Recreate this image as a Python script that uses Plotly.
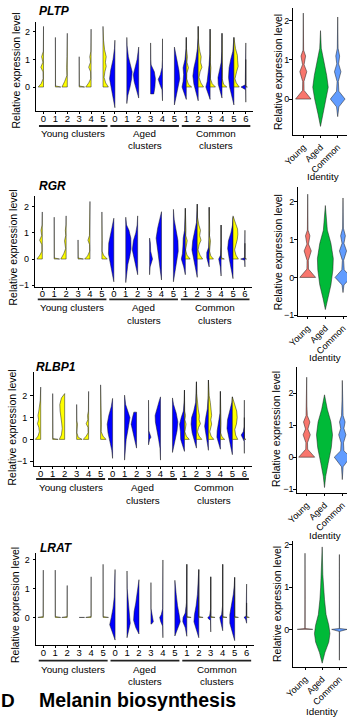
import plotly.graph_objects as go

W, H = 347, 719

CLUSTER_LABELS = ['0', '1', '2', '3', '4', '5', '0', '1', '2', '3', '4', '5', '1', '2', '3', '4', '5', '6']
GROUP_LABELS = [['Young clusters'], ['Aged', 'clusters'], ['Common', 'clusters']]
IDENTITY = ['Young', 'Aged', 'Common']
GENES = ['PLTP', 'RGR', 'RLBP1', 'LRAT']

# Each profile: [expression level, relative density width] from bottom to top
PLTP_young = [
    [[0, 1], [0.12, 0.45], [0.3, 0.08], [0.55, 0.1], [0.72, 0.5], [0.9, 0.12], [1.1, 0.35], [1.3, 0.04], [2.2, 0]],
    [[0, 1], [0.04, 0.03], [0.7, 0.03], [1.8, 0]],
    [[0, 1], [0.2, 0.5], [0.42, 0.08], [0.7, 0.12], [0.9, 0.05], [1.1, 0.06], [1.95, 0]],
    [[0, 1], [0.04, 0.03], [0.7, 0.03], [1.1, 0]],
    [[0, 1], [0.15, 0.45], [0.3, 0.08], [0.55, 0.1], [0.72, 0.45], [0.9, 0.12], [1.1, 0.25], [1.3, 0.04], [2.1, 0]],
    [[0, 1], [0.15, 0.5], [0.35, 0.2], [0.55, 0.35], [0.75, 0.6], [0.9, 0.45], [1.1, 0.6], [1.35, 0.3], [1.7, 0.1], [2.2, 0]],
]
PLTP_aged = [
    [[-0.75, 0], [-0.4, 0.3], [0, 0.75], [0.3, 1], [0.6, 0.8], [1.0, 0.35], [1.4, 0.08], [1.7, 0]],
    [[-0.6, 0], [-0.3, 0.2], [0, 0.6], [0.3, 0.9], [0.55, 1], [0.8, 0.7], [1.1, 0.3], [1.5, 0.05], [1.8, 0]],
    [[-0.4, 0], [-0.1, 0.4], [0.2, 0.85], [0.45, 1], [0.7, 0.7], [1.0, 0.3], [1.45, 0]],
    [[-0.25, 0.6], [0, 0.8], [0.3, 0.9], [0.55, 0.7], [0.8, 0.1], [1.0, 0.03], [1.6, 0]],
    [[-0.5, 0], [-0.1, 0.1], [0.1, 0.5], [0.28, 0.8], [0.45, 0.4], [0.7, 0.1], [1.0, 0.02], [1.75, 0]],
    [[-0.65, 0], [-0.3, 0.4], [0, 0.75], [0.3, 1], [0.6, 0.85], [0.9, 0.5], [1.2, 0.15], [1.45, 0]],
]
PLTP_common_aged = [
    [[-0.45, 0], [-0.2, 0.5], [0, 0.8], [0.2, 0.6], [0.45, 0.5], [0.7, 0.6], [1.0, 0.25], [1.4, 0.05], [1.8, 0]],
    [[-0.5, 0], [-0.2, 0.4], [0.1, 0.8], [0.4, 1], [0.7, 0.8], [1.0, 0.45], [1.4, 0.15], [1.8, 0.03], [2.2, 0]],
    [[-0.45, 0], [-0.2, 0.5], [0, 0.8], [0.2, 0.55], [0.5, 0.35], [0.8, 0.2], [1.2, 0.05], [2.1, 0]],
    [[-0.4, 0], [-0.15, 0.4], [0.1, 0.7], [0.35, 0.75], [0.6, 0.45], [0.9, 0.15], [1.3, 0.03], [1.95, 0]],
    [[-0.65, 0], [-0.3, 0.45], [0, 0.8], [0.35, 1], [0.7, 0.9], [1.0, 0.6], [1.3, 0.2], [1.8, 0]],
    [[-0.55, 0], [-0.1, 0.03], [0, 0.9], [0.08, 0.1], [1.6, 0]],
]
PLTP_common_young = [
    [[0, 1], [0.1, 0.4], [0.3, 0.08], [0.5, 0.1], [0.7, 0.4], [0.9, 0.12], [1.1, 0.2], [1.4, 0.03], [1.8, 0]],
    [[0, 1], [0.15, 0.5], [0.35, 0.15], [0.55, 0.35], [0.72, 0.7], [0.9, 0.45], [1.1, 0.55], [1.3, 0.3], [1.6, 0.08], [2.2, 0]],
    [[0, 1], [0.12, 0.4], [0.3, 0.05], [0.7, 0.15], [0.9, 0.04], [1.1, 0.08], [2.1, 0]],
    [[0, 0.9], [0.1, 0.3], [0.3, 0.04], [0.7, 0.08], [1.1, 0.05], [1.95, 0]],
    [[0, 1], [0.15, 0.45], [0.3, 0.2], [0.55, 0.5], [0.75, 0.8], [0.95, 0.7], [1.15, 0.65], [1.4, 0.3], [1.7, 0.05], [1.8, 0]],
    [[0, 0.3], [0.02, 0.01], [1.0, 0]],
]
PLTP_identity = [
    [[0, 1], [0.1, 0.55], [0.22, 0.1], [0.45, 0.08], [0.7, 0.45], [0.88, 0.1], [1.1, 0.3], [1.25, 0.04], [2.2, 0]],
    [[-0.7, 0], [-0.4, 0.3], [0, 0.75], [0.3, 1], [0.6, 0.8], [1.0, 0.4], [1.3, 0.1], [1.75, 0]],
    [[-0.45, 0], [-0.2, 0.15], [0, 0.95], [0.2, 0.15], [0.45, 0.08], [0.7, 0.42], [0.9, 0.12], [1.1, 0.25], [1.3, 0.05], [2.1, 0]],
]

RGR_young = [
    [[0, 1], [0.15, 0.45], [0.3, 0.08], [0.55, 0.1], [0.72, 0.5], [0.9, 0.12], [1.1, 0.25], [1.3, 0.04], [1.8, 0]],
    [[0, 1], [0.04, 0.03], [0.66, 0.04], [1.6, 0]],
    [[0, 1], [0.2, 0.45], [0.4, 0.1], [0.7, 0.3], [0.9, 0.08], [1.1, 0.15], [1.3, 0.03], [1.65, 0]],
    [[0, 1], [0.04, 0.03], [0.73, 0]],
    [[0, 1], [0.12, 0.45], [0.3, 0.06], [0.55, 0.08], [0.72, 0.38], [0.9, 0.1], [1.1, 0.1], [2.2, 0]],
    [[0, 1], [0.15, 0.3], [0.3, 0.04], [0.7, 0.06], [1.1, 0.05], [1.8, 0]],
]
RGR_aged = [
    [[-0.87, 0], [-0.5, 0.35], [-0.2, 0.75], [0.2, 1], [0.6, 0.95], [0.9, 0.7], [1.2, 0.35], [1.56, 0]],
    [[-0.9, 0], [-0.5, 0.15], [-0.2, 0.4], [0.1, 0.75], [0.4, 1], [0.8, 0.95], [1.1, 0.6], [1.3, 0.15], [1.6, 0]],
    [[-0.6, 0], [-0.3, 0.3], [0, 0.65], [0.35, 1], [0.7, 0.8], [1.0, 0.35], [1.3, 0.1], [1.65, 0]],
    [[-0.6, 0], [-0.3, 0.1], [0, 0.55], [0.3, 0.2], [0.6, 0.15], [0.8, 0]],
    [[-0.8, 0], [-0.4, 0.25], [0, 0.55], [0.4, 0.85], [0.8, 1], [1.2, 0.7], [1.5, 0.3], [1.81, 0]],
    [[-0.87, 0], [-0.5, 0.3], [-0.1, 0.65], [0.3, 0.9], [0.7, 0.85], [1.1, 0.5], [1.5, 0.15], [1.9, 0]],
]
RGR_common_aged = [
    [[-0.6, 0], [-0.3, 0.3], [0, 0.75], [0.2, 0.55], [0.5, 0.45], [0.8, 0.4], [1.1, 0.15], [1.5, 0.03], [1.94, 0]],
    [[-0.7, 0], [-0.3, 0.4], [0, 0.7], [0.35, 1], [0.7, 0.85], [1.0, 0.5], [1.4, 0.15], [2.1, 0]],
    [[-0.3, 0], [-0.1, 0.3], [0.05, 0.45], [0.25, 0.45], [0.45, 0.1], [0.8, 0.02], [1.98, 0]],
    [[-0.65, 0], [-0.3, 0.15], [0, 0.45], [0.15, 0.1], [0.5, 0.02], [1.3, 0]],
    [[-0.75, 0], [-0.4, 0.35], [0, 0.7], [0.4, 1], [0.7, 0.85], [1.0, 0.4], [1.3, 0.1], [1.6, 0]],
    [[-0.3, 0], [-0.05, 0.05], [0, 0.8], [0.05, 0.05], [1.1, 0]],
]
RGR_common_young = [
    [[0, 0.9], [0.15, 0.3], [0.35, 0.05], [0.7, 0.35], [0.9, 0.08], [1.1, 0.12], [1.94, 0]],
    [[0, 1], [0.15, 0.5], [0.35, 0.15], [0.55, 0.35], [0.72, 0.7], [0.9, 0.45], [1.1, 0.6], [1.3, 0.3], [1.6, 0.05], [2.1, 0]],
    [[0, 0.8], [0.12, 0.3], [0.3, 0.08], [0.7, 0.25], [0.9, 0.06], [1.1, 0.1], [1.98, 0]],
    [[0, 0.6], [0.05, 0.03], [1.3, 0]],
    [[0, 1], [0.15, 0.55], [0.35, 0.3], [0.55, 0.55], [0.75, 0.8], [0.95, 0.9], [1.15, 0.85], [1.35, 0.5], [1.55, 0.15], [1.65, 0]],
    [[0, 0.3], [0.03, 0.01], [0.6, 0]],
]
RGR_identity = [
    [[0, 1], [0.1, 0.55], [0.22, 0.1], [0.45, 0.08], [0.7, 0.45], [0.88, 0.1], [1.1, 0.28], [1.25, 0.04], [2.2, 0]],
    [[-0.85, 0], [-0.55, 0.3], [-0.2, 0.7], [0.2, 0.95], [0.5, 1], [0.9, 0.7], [1.25, 0.25], [1.9, 0]],
    [[-0.4, 0], [-0.2, 0.12], [0, 1], [0.2, 0.15], [0.45, 0.08], [0.7, 0.45], [0.9, 0.12], [1.1, 0.3], [1.3, 0.05], [2.1, 0]],
]

RLBP1_young = [
    [[0, 1], [0.15, 0.5], [0.35, 0.25], [0.55, 0.35], [0.72, 0.6], [0.9, 0.4], [1.1, 0.5], [1.3, 0.35], [1.5, 0.25], [1.8, 0.08], [2.4, 0]],
    [[0, 1], [0.04, 0.05], [0.7, 0.06], [0.85, 0.02], [1.1, 0.08], [1.25, 0.02], [2.1, 0]],
    [[0, 1], [0.2, 0.6], [0.5, 0.45], [0.75, 0.55], [1.0, 0.7], [1.3, 0.85], [1.6, 0.9], [1.9, 0.6], [2.1, 0]],
    [[0, 1], [0.1, 0.3], [0.3, 0.04], [0.7, 0.15], [0.85, 0.03], [1.6, 0]],
    [[0, 1], [0.15, 0.45], [0.3, 0.1], [0.55, 0.12], [0.72, 0.45], [0.9, 0.15], [1.1, 0.2], [1.3, 0.04], [2.2, 0]],
    [[0, 1], [0.15, 0.45], [0.35, 0.12], [0.7, 0.15], [1.1, 0.1], [2.5, 0]],
]
RLBP1_aged = [
    [[-0.87, 0], [-0.5, 0.15], [-0.1, 0.5], [0.3, 0.85], [0.7, 1], [1.1, 0.7], [1.5, 0.25], [1.88, 0]],
    [[-0.95, 0], [-0.5, 0.1], [0, 0.3], [0.4, 0.6], [0.8, 0.95], [1.0, 1], [1.3, 0.6], [1.6, 0.2], [2.03, 0]],
    [[-0.4, 0], [-0.1, 0.3], [0.3, 0.7], [0.7, 1], [1.0, 0.75], [1.25, 0.5]],
    [[-0.25, 0], [0, 0.2], [0.1, 0.45], [0.25, 0.3], [0.4, 0.05], [1.8, 0]],
    [[-0.95, 0], [-0.4, 0.1], [0, 0.35], [0.4, 0.65], [0.8, 0.95], [1.1, 1], [1.5, 0.6], [1.8, 0.2], [1.95, 0]],
    [[-0.6, 0], [-0.3, 0.25], [0, 0.55], [0.4, 0.85], [0.8, 1], [1.2, 0.7], [1.6, 0.2], [1.9, 0]],
]
RLBP1_common_aged = [
    [[-0.55, 0], [-0.3, 0.35], [0, 0.7], [0.35, 0.75], [0.7, 0.9], [1.0, 0.6], [1.3, 0.2], [1.8, 0.05], [2.26, 0]],
    [[-0.4, 0], [-0.1, 0.35], [0.3, 0.8], [0.7, 1], [1.0, 0.9], [1.3, 0.5], [1.7, 0.15], [2.64, 0]],
    [[-0.5, 0], [-0.2, 0.2], [0.2, 0.55], [0.6, 0.7], [1.0, 0.5], [1.4, 0.2], [2.0, 0.05], [2.72, 0]],
    [[-0.45, 0], [-0.2, 0.3], [0.1, 0.65], [0.4, 0.6], [0.8, 0.3], [1.2, 0.08], [2.2, 0]],
    [[-0.7, 0], [-0.3, 0.35], [0.1, 0.75], [0.5, 1], [0.9, 0.9], [1.3, 0.45], [1.7, 0.1], [1.95, 0]],
    [[-0.64, 0], [-0.1, 0.03], [0.05, 0.3], [0.2, 0.6], [0.35, 0.2], [0.6, 0.02], [1.8, 0]],
]
RLBP1_common_young = [
    [[0, 0.9], [0.15, 0.35], [0.35, 0.08], [0.7, 0.3], [0.9, 0.08], [1.1, 0.2], [1.3, 0.05], [2.26, 0]],
    [[0, 1], [0.15, 0.5], [0.35, 0.2], [0.55, 0.4], [0.72, 0.75], [0.9, 0.5], [1.1, 0.55], [1.35, 0.35], [1.7, 0.15], [2.1, 0.05], [2.64, 0]],
    [[0, 1], [0.15, 0.5], [0.35, 0.25], [0.7, 0.6], [0.9, 0.45], [1.1, 0.6], [1.4, 0.5], [1.7, 0.35], [2.0, 0.15], [2.72, 0]],
    [[0, 0.8], [0.12, 0.3], [0.3, 0.05], [0.7, 0.12], [1.1, 0.06], [2.2, 0]],
    [[0, 1], [0.2, 0.6], [0.45, 0.45], [0.7, 0.75], [1.0, 0.9], [1.3, 0.8], [1.6, 0.45], [1.95, 0]],
    [[0, 0.3], [0.04, 0.01], [1.0, 0]],
]
RLBP1_identity = [
    [[0, 1], [0.12, 0.55], [0.25, 0.12], [0.45, 0.1], [0.7, 0.45], [0.88, 0.15], [1.1, 0.4], [1.3, 0.08], [1.6, 0.02], [2.5, 0]],
    [[-0.95, 0], [-0.6, 0.15], [-0.2, 0.45], [0.3, 0.85], [0.7, 1], [1.1, 0.8], [1.5, 0.35], [1.95, 0]],
    [[-0.7, 0], [-0.3, 0.1], [0, 1], [0.2, 0.2], [0.45, 0.15], [0.7, 0.45], [0.9, 0.2], [1.1, 0.35], [1.3, 0.1], [1.8, 0.03], [2.4, 0]],
]

LRAT_young = [
    [[0, 1], [0.03, 0.03], [0.7, 0.03], [1.63, 0]],
    [[0, 1], [0.03, 0.02], [0.7, 0.03], [1.63, 0]],
    [[0, 1], [0.03, 0.02], [1.1, 0]],
    [[0, 1], [0.02, 0]],
    [[0, 1], [0.03, 0.02], [0.7, 0.02], [1.4, 0]],
    [[0, 1], [0.03, 0.02], [0.7, 0.02], [1.83, 0]],
]
LRAT_aged = [
    [[-0.78, 0], [-0.5, 0.5], [-0.25, 1], [0, 0.7], [0.3, 0.4], [0.7, 0.15], [1.2, 0.03], [1.65, 0]],
    [[-0.7, 0], [-0.45, 0.3], [-0.2, 0.6], [0, 0.5], [0.3, 0.35], [0.6, 0.15], [1.0, 0.03], [1.6, 0]],
    [[-0.57, 0], [-0.35, 0.6], [-0.1, 1], [0.2, 0.9], [0.5, 0.6], [0.9, 0.25], [1.3, 0]],
    [[-0.23, 0.1], [-0.15, 0.45], [0, 0.3], [0.1, 0.1], [0.3, 0.02], [1.2, 0]],
    [[-0.7, 0], [-0.3, 0.05], [-0.15, 0.4], [0, 0.6], [0.1, 0.3], [0.3, 0.05], [1.98, 0]],
    [[-0.64, 0], [-0.35, 0.6], [-0.15, 1], [0.1, 0.8], [0.4, 0.5], [0.8, 0.25], [1.28, 0]],
]
LRAT_common_aged = [
    [[-0.65, 0], [-0.35, 0.3], [-0.15, 0.75], [0, 0.7], [0.15, 0.3], [0.5, 0.08], [1.83, 0]],
    [[-0.7, 0], [-0.4, 0.5], [-0.15, 0.9], [0.1, 0.8], [0.4, 0.5], [0.8, 0.25], [1.2, 0.08], [1.65, 0]],
    [[-0.5, 0], [-0.1, 0.05], [-0.05, 0.4], [0, 0.55], [0.05, 0.2], [0.3, 0.02], [1.4, 0]],
    [[-0.46, 0], [-0.2, 0.3], [0, 0.55], [0.1, 0.2], [0.4, 0.03], [1.83, 0]],
    [[-0.8, 0], [-0.5, 0.4], [-0.2, 0.9], [0.1, 0.9], [0.4, 0.6], [0.8, 0.25], [1.1, 0.08], [1.38, 0]],
    [[-0.2, 0], [-0.05, 0.2], [0, 0.5], [0.05, 0.1], [1.15, 0]],
]
LRAT_common_young = [
    [[0, 0.8], [0.03, 0.02], [1.83, 0]],
    [[0, 0.8], [0.03, 0.02], [0.7, 0.02], [1.65, 0]],
    [[0, 0.8], [0.03, 0.02], [1.4, 0]],
    [[0, 0.8], [0.03, 0.02], [1.83, 0]],
    [[0, 0.7], [0.03, 0.02], [1.38, 0]],
    [[0, 0.5], [0.03, 0.01], [0.5, 0]],
]
LRAT_identity = [
    [[0, 1], [0.02, 0.02], [0.7, 0.02], [1.8, 0]],
    [[-0.8, 0], [-0.55, 0.35], [-0.3, 0.85], [-0.1, 1], [0.1, 0.85], [0.35, 0.5], [0.7, 0.3], [1.0, 0.2], [1.3, 0.08], [1.95, 0]],
    [[-0.73, 0], [-0.05, 0.02], [0, 1], [0.02, 0.02], [1.77, 0]],
]

DATA = {
    'PLTP': (PLTP_young, PLTP_aged, PLTP_common_aged, PLTP_common_young, PLTP_identity),
    'RGR': (RGR_young, RGR_aged, RGR_common_aged, RGR_common_young, RGR_identity),
    'RLBP1': (RLBP1_young, RLBP1_aged, RLBP1_common_aged, RLBP1_common_young, RLBP1_identity),
    'LRAT': (LRAT_young, LRAT_aged, LRAT_common_aged, LRAT_common_young, LRAT_identity),
}

# ---------------- styling / layout (pixels) ----------------
YELLOW, BLUE = '#FFFF00', '#0000FF'
ID_COLORS = ['#F8766D', '#00BA38', '#619CFF']
OUTLINE = '#1a1a1a'
FONT = 'Liberation Sans, Arial, sans-serif'
HW = 0.45  # half width of a violin in category units

LEFT = [
    dict(p0=43.5, sp=11.9, top=22, bot=111, yr=[-0.87, 2.36], ticks=[0, 1, 2]),
    dict(p0=42.3, sp=11.92, top=196, bot=286.5, yr=[-1.05, 2.41], ticks=[-1, 0, 1, 2]),
    dict(p0=40.7, sp=11.98, top=372, bot=466, yr=[-1.22, 3.09], ticks=[-1, 0, 1, 2]),
    dict(p0=43.3, sp=11.96, top=553, bot=645, yr=[-0.95, 2.22], ticks=[0, 1, 2]),
]
RIGHT = [
    dict(ax=292.5, young=303.3, sp=17.2, top=8, bot=135, yr=[-0.92, 2.33], ticks=[0, 1, 2]),
    dict(ax=297.5, young=307.7, sp=17.65, top=187, bot=316, yr=[-1.02, 2.39], ticks=[-1, 0, 1, 2]),
    dict(ax=296.7, young=306.7, sp=17.8, top=367, bot=493, yr=[-1.12, 2.82], ticks=[-1, 0, 1, 2]),
    dict(ax=292.5, young=305, sp=17.2, top=541, bot=667, yr=[-0.89, 2.09], ticks=[0, 1, 2]),
]
TITLE_POS = [(37, 11), (36.5, 186), (33.5, 366.5), (38, 547.5)]
YT_LEFT = [(15.5, 71), (12.5, 248), (12, 427.5), (15, 605)]
YT_RIGHT = [(277.5, 72.5), (277.5, 252.7), (276, 429), (277, 604)]
IDENT_POS = [(323, 177), (325, 357), (325, 535), (322, 711.5)]
GROUP_Y = [(126, 133, 145.7), (299.3, 307.7, 320), (479, 487.7, 500), (660.7, 669.3, 681.7)]


def px(x):
    return x / W


def py(y):
    return 1 - y / H


def half_shape(xc, side, prof):
    ys = [p[0] for p in prof]
    ws = [p[1] for p in prof]
    xs = [xc] + [xc + side * HW * w for w in ws] + [xc, xc]
    yy = [ys[0]] + ys + [ys[-1], ys[0]]
    return xs, yy


def full_shape(xc, prof):
    ys = [p[0] for p in prof]
    ws = [p[1] for p in prof]
    xs = [xc + HW * w for w in ws] + [xc - HW * w for w in ws[::-1]] + [xc + HW * ws[0]]
    yy = ys + ys[::-1] + [ys[0]]
    return xs, yy


def sx(n):
    return 'x' if n == 1 else f'x{n}'


def sy(n):
    return 'y' if n == 1 else f'y{n}'


fig = go.Figure()
layout = dict(width=W, height=H, autosize=False,
              margin=dict(l=0, r=0, t=0, b=0, pad=0, autoexpand=False),
              paper_bgcolor='white', plot_bgcolor='white', showlegend=False,
              font=dict(family=FONT, color='black'))
annotations = []
shapes = []

axis_common = dict(showline=True, linecolor='black', linewidth=0.9, ticks='outside', ticklen=2.5,
                   tickcolor='black', tickwidth=0.9, showgrid=False, zeroline=False, fixedrange=True,
                   automargin=False)

for r, gene in enumerate(GENES):
    young, aged, c_aged, c_young, ident = DATA[gene]
    L, R = LEFT[r], RIGHT[r]
    xl = yl = 2 * r + 1
    xr = yr = 2 * r + 2

    # ---- left: split violins; side follows ggplot group parity ----
    halves = []
    for i in range(6):
        halves.append((i, young[i], YELLOW))
    for i in range(6):
        halves.append((6 + i, aged[i], BLUE))
    for i in range(6):
        halves.append((12 + i, c_aged[i], BLUE))
        halves.append((12 + i, c_young[i], YELLOW))
    halves.sort(key=lambda h: (h[0], 0 if h[2] == BLUE else 1))
    for g, (xi, prof, col) in enumerate(halves, start=1):
        side = -1 if g % 2 == 1 else 1
        xs, ys = half_shape(xi, side, prof)
        fig.add_trace(go.Scatter(x=xs, y=ys, mode='lines', fill='toself', fillcolor=col,
                                 line=dict(color=OUTLINE, width=0.5), hoverinfo='skip',
                                 xaxis=sx(xl), yaxis=sy(yl)))

    x0 = L['p0'] - 0.6 * L['sp']
    x1 = L['p0'] + 17.6 * L['sp']
    layout['xaxis' if xl == 1 else f'xaxis{xl}'] = dict(
        axis_common, domain=[px(x0), px(x1)], range=[-0.6, 17.6], anchor=sy(yl),
        tickvals=list(range(18)), ticktext=CLUSTER_LABELS, tickfont=dict(size=9.5),
        ticklabelstandoff=-4)
    layout['yaxis' if yl == 1 else f'yaxis{yl}'] = dict(
        axis_common, domain=[py(L['bot']), py(L['top'])], range=L['yr'], anchor=sx(xl),
        tickvals=L['ticks'], tickfont=dict(size=9), ticklabelstandoff=1)

    ly, t1, t2 = GROUP_Y[r]
    for gi, lab in enumerate(GROUP_LABELS):
        c = 2.5 + 6 * gi
        shapes.append(dict(type='line', xref=sx(xl), yref='paper', x0=c - 2.88, x1=c + 2.88,
                           y0=py(ly), y1=py(ly), line=dict(color='#222222', width=1.8)))
        for li, txt in enumerate(lab):
            annotations.append(dict(text=txt, xref=sx(xl), yref='paper', x=c, y=py([t1, t2][li]),
                                    showarrow=False, xanchor='center', yanchor='middle',
                                    font=dict(size=9.8, family=FONT, color='black')))

    tx, ty = TITLE_POS[r]
    annotations.append(dict(text=f'<b><i>{gene}</i></b>', xref='paper', yref='paper', x=px(tx), y=py(ty),
                            showarrow=False, xanchor='left', yanchor='middle',
                            font=dict(size=12, family=FONT, color='black')))
    for (ax_, ay_) in (YT_LEFT[r], YT_RIGHT[r]):
        annotations.append(dict(text='Relative expression level', xref='paper', yref='paper',
                                x=px(ax_), y=py(ay_), showarrow=False, textangle=-90,
                                xanchor='center', yanchor='middle',
                                font=dict(size=10.5, family=FONT, color='black')))

    # ---- right: identity violins ----
    for k in range(3):
        xs, ys = full_shape(k + 1, ident[k])
        fig.add_trace(go.Scatter(x=xs, y=ys, mode='lines', fill='toself', fillcolor=ID_COLORS[k],
                                 line=dict(color=OUTLINE, width=0.5), hoverinfo='skip',
                                 xaxis=sx(xr), yaxis=sy(yr)))
    start = 1 - (R['young'] - R['ax']) / R['sp']
    end = start + (W - R['ax']) / R['sp']
    layout['xaxis' if xr == 1 else f'xaxis{xr}'] = dict(
        axis_common, domain=[px(R['ax']), 1.0], range=[start, end], anchor=sy(yr),
        tickvals=[1, 2, 3], ticktext=IDENTITY, tickangle=-45, tickfont=dict(size=9),
        ticklabeloverflow='allow')
    layout['yaxis' if yr == 1 else f'yaxis{yr}'] = dict(
        axis_common, domain=[py(R['bot']), py(R['top'])], range=R['yr'], anchor=sx(xr),
        tickvals=R['ticks'], tickfont=dict(size=9), ticklabelstandoff=-2)
    ix, iy = IDENT_POS[r]
    annotations.append(dict(text='Identity', xref='paper', yref='paper', x=px(ix), y=py(iy),
                            showarrow=False, xanchor='center', yanchor='middle',
                            font=dict(size=9.8, family=FONT, color='black')))

annotations.append(dict(text='<b>D</b>', xref='paper', yref='paper', x=px(-1.5), y=py(700),
                        showarrow=False, xanchor='left', yanchor='middle',
                        font=dict(size=19, family=FONT, color='black')))
annotations.append(dict(text='<b>Melanin biosynthesis</b>', xref='paper', yref='paper', x=px(37), y=py(700),
                        showarrow=False, xanchor='left', yanchor='middle',
                        font=dict(size=19.5, family=FONT, color='black')))

layout['annotations'] = annotations
layout['shapes'] = shapes
fig.update_layout(**layout)
fig.write_html('out.html', config={'displayModeBar': False},
               post_script="document.body.style.margin='0px';document.body.style.overflow='hidden';")
